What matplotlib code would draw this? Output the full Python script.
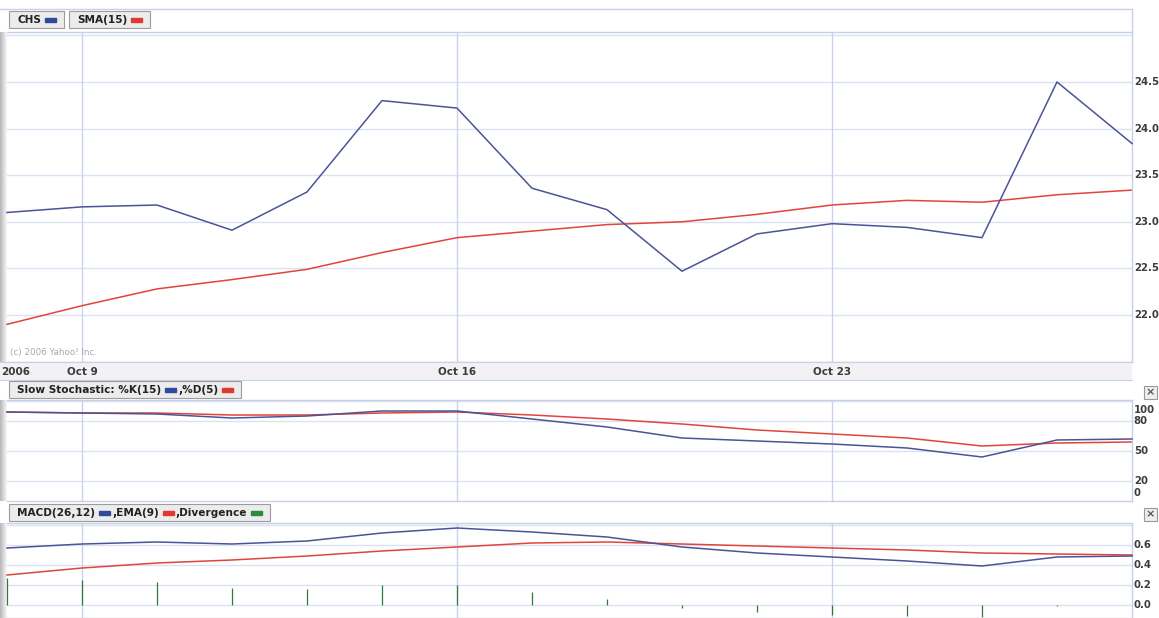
import matplotlib
matplotlib.use("Agg")
import matplotlib.pyplot as plt
from matplotlib.patches import Rectangle
import matplotlib.transforms as mtransforms
import numpy as np

# ---------------- data ----------------
dates = ["Oct 6", "Oct 9", "Oct 10", "Oct 11", "Oct 12", "Oct 13",
         "Oct 16", "Oct 17", "Oct 18", "Oct 19", "Oct 20",
         "Oct 23", "Oct 24", "Oct 25", "Oct 26", "Oct 27"]
chs = [23.10, 23.16, 23.18, 22.91, 23.32, 24.30, 24.22, 23.36,
       23.13, 22.47, 22.87, 22.98, 22.94, 22.83, 24.50, 23.84]
sma15 = [21.90, 22.10, 22.28, 22.38, 22.49, 22.67, 22.83, 22.90,
         22.97, 23.00, 23.08, 23.18, 23.23, 23.21, 23.29, 23.34]
stoch_k = [89, 88, 87, 83, 85, 90, 90, 82, 74, 63, 60, 57, 53, 44, 61, 62]
stoch_d = [89, 88, 88, 86, 86, 88, 89, 86, 82, 77, 71, 67, 63, 55, 58, 59]
macd = [0.57, 0.61, 0.63, 0.61, 0.64, 0.72, 0.77, 0.73,
        0.68, 0.58, 0.52, 0.48, 0.44, 0.39, 0.48, 0.49]
ema9 = [0.30, 0.37, 0.42, 0.45, 0.49, 0.54, 0.58, 0.62,
        0.63, 0.61, 0.59, 0.57, 0.55, 0.52, 0.51, 0.50]
divergence = [0.27, 0.25, 0.23, 0.17, 0.16, 0.20, 0.20, 0.13,
              0.06, -0.03, -0.07, -0.10, -0.11, -0.12, -0.01, 0.0]
week_ticks = ["Oct 9", "Oct 16", "Oct 23"]
year_label = "2006"
main_yticks = [22.0, 22.5, 23.0, 23.5, 24.0, 24.5]
stoch_yticks = [0, 20, 50, 80, 100]
macd_yticks = [0.0, 0.2, 0.4, 0.6]

# ---------------- style ----------------
W, H = 1159, 618
BLUE = "#4b5496"
RED = "#e2443c"
GREEN = "#2f7a3b"
HGRID = "#dde2f3"
VGRID = "#c9d2ee"
FRAME = "#c6d0e8"
LBL = "#3c3c3c"
FONT = "DejaVu Sans"

fig = plt.figure(figsize=(W / 100, H / 100), dpi=100)
fig.patch.set_facecolor("white")


def fx(x):
    return x / W


def fy(y):
    return 1 - y / H


def add_axes_px(x0, y0, x1, y1, **kw):
    return fig.add_axes([fx(x0), fy(y1), (x1 - x0) / W, (y1 - y0) / H], **kw)


x = np.arange(len(dates))
week_pos = [dates.index(d) for d in week_ticks]

# ---------------- left grey strips (drawn first, beneath panels) ----------------
grad = np.linspace(0.72, 0.97, 16).reshape(1, -1)
for (y0, y1) in [(32, 362), (400, 501), (523, 618)]:
    g = add_axes_px(0, y0, 7, y1)
    g.imshow(grad, cmap="gray", vmin=0, vmax=1, aspect="auto",
             extent=[0, 1, 0, 1])
    g.axis("off")


def style_panel(ax, ylim, grid_vals):
    ax.set_xlim(0, len(dates) - 1)
    ax.set_ylim(*ylim)
    ax.set_facecolor("white")
    for v in grid_vals:
        ax.axhline(v, color=HGRID, lw=1.0, zorder=0)
    for p in week_pos:
        ax.axvline(p, color=VGRID, lw=1.0, zorder=0)
    ax.set_xticks([])
    ax.set_yticks([])
    ax.spines["left"].set_visible(False)
    for s in ["top", "bottom", "right"]:
        ax.spines[s].set_color(FRAME)
        ax.spines[s].set_linewidth(1.0)


def right_labels(ax, vals, labels, offsets=None):
    tr = mtransforms.blended_transform_factory(ax.transAxes, ax.transData)
    for i, (v, s) in enumerate(zip(vals, labels)):
        dy = 0 if offsets is None else offsets[i]
        ax.text(1.0016, v + dy, s, transform=tr, ha="left", va="center",
                fontsize=7.3, fontweight="bold", color=LBL, family=FONT,
                clip_on=False)


# ---------------- main panel ----------------
axm = add_axes_px(7, 32, 1132, 362)
style_panel(axm, (21.496, 25.036), main_yticks + [25.0])
axm.plot(x, chs, color=BLUE, lw=1.1, zorder=3, clip_on=False)
axm.plot(x, sma15, color=RED, lw=1.1, zorder=2, clip_on=False)
right_labels(axm, main_yticks, [f"{v:.1f}" for v in main_yticks])
axm.text(0.003, 0.015, "(c) 2006 Yahoo! Inc.", transform=axm.transAxes,
         fontsize=6.3, color="#a8a8a8", family=FONT, ha="left", va="bottom")

# ---------------- date strip ----------------
axd = add_axes_px(0, 362, 1132, 380)
axd.set_xlim(-7 / 75.0, len(dates) - 1)
axd.set_ylim(0, 1)
axd.set_facecolor("#f4f1f5")
axd.set_xticks([])
axd.set_yticks([])
for s in ["left", "right"]:
    axd.spines[s].set_visible(False)
for s in ["top", "bottom"]:
    axd.spines[s].set_color(FRAME)
axd.text(-7 / 75.0 + 0.02, 0.45, year_label, ha="left", va="center",
         fontsize=7.5, fontweight="bold", color=LBL, family=FONT)
for p, lab in zip(week_pos, week_ticks):
    axd.text(p, 0.45, lab, ha="center", va="center", fontsize=7.5,
             fontweight="bold", color=LBL, family=FONT)

# ---------------- stochastic panel ----------------
axs = add_axes_px(7, 400, 1132, 501)
style_panel(axs, (0, 101), [20, 50, 80, 100])
axs.plot(x, stoch_d, color=RED, lw=1.1, zorder=2, clip_on=False)
axs.plot(x, stoch_k, color=BLUE, lw=1.1, zorder=3, clip_on=False)
right_labels(axs, stoch_yticks, [str(v) for v in stoch_yticks],
             offsets=[8, 0, 0, 0, -9])

# ---------------- MACD panel ----------------
axc = add_axes_px(7, 523, 1132, 618)
style_panel(axc, (-0.13, 0.82), [0.0, 0.2, 0.4, 0.6, 0.8])
axc.vlines(x, 0, divergence, color=GREEN, lw=0.9, zorder=2, clip_on=False)
axc.plot(x, ema9, color=RED, lw=1.1, zorder=3, clip_on=False)
axc.plot(x, macd, color=BLUE, lw=1.1, zorder=4, clip_on=False)
right_labels(axc, macd_yticks, [f"{v:.1f}" for v in macd_yticks])

# top line of the chart header
fig.add_artist(plt.Line2D([0, fx(1132)], [fy(9), fy(9)], color=FRAME,
                          lw=1.0))
fig.add_artist(plt.Line2D([fx(1132), fx(1132)], [fy(9), fy(32)],
                          color=FRAME, lw=1.0))

# ---------------- header legend boxes ----------------
renderer = fig.canvas.get_renderer()


def legend_box(x0, y0, y1, items, fs=7.6):
    xc = x0 + 8
    ym = (y0 + y1) / 2 + 0.5
    for txt, col in items:
        t = fig.text(fx(xc), fy(ym), txt, ha="left", va="center",
                     fontsize=fs, fontweight="bold", color="#222222",
                     family=FONT, zorder=5)
        bb = t.get_window_extent(renderer)
        xc = xc + bb.width + 4
        fig.add_artist(Rectangle((fx(xc), fy(ym + 2)), 11 / W, 4 / H,
                                 transform=fig.transFigure, color=col,
                                 zorder=5))
        xc = xc + 13
    x1 = xc + 6
    fig.add_artist(Rectangle((fx(x0), fy(y1)), (x1 - x0) / W,
                             (y1 - y0) / H, transform=fig.transFigure,
                             facecolor="#ececec", edgecolor="#9c9c9c",
                             lw=0.8, zorder=4))
    return x1


xe = legend_box(9, 11, 28, [("CHS", "#2f4a9a")])
legend_box(xe + 5, 11, 28, [("SMA(15)", "#e03a30")])
legend_box(9, 381, 398, [("Slow Stochastic: %K(15)", "#2f4a9a"),
                         (",%D(5)", "#e03a30")])
legend_box(9, 504, 521, [("MACD(26,12)", "#2f4a9a"),
                         (",EMA(9)", "#e03a30"),
                         (",Divergence", "#2f8a3e")])

# ---------------- close buttons ----------------
for (bx, by) in [(1144, 386), (1144, 508)]:
    fig.add_artist(Rectangle((fx(bx), fy(by + 13)), 13 / W, 13 / H,
                             transform=fig.transFigure, facecolor="#eeeeee",
                             edgecolor="#9a9a9a", lw=0.8))
    fig.text(fx(bx + 6.5), fy(by + 6.5), "×", ha="center", va="center",
             fontsize=8, fontweight="bold", color="#555555", family=FONT)

fig.savefig("out.png", dpi=100, facecolor="white")
